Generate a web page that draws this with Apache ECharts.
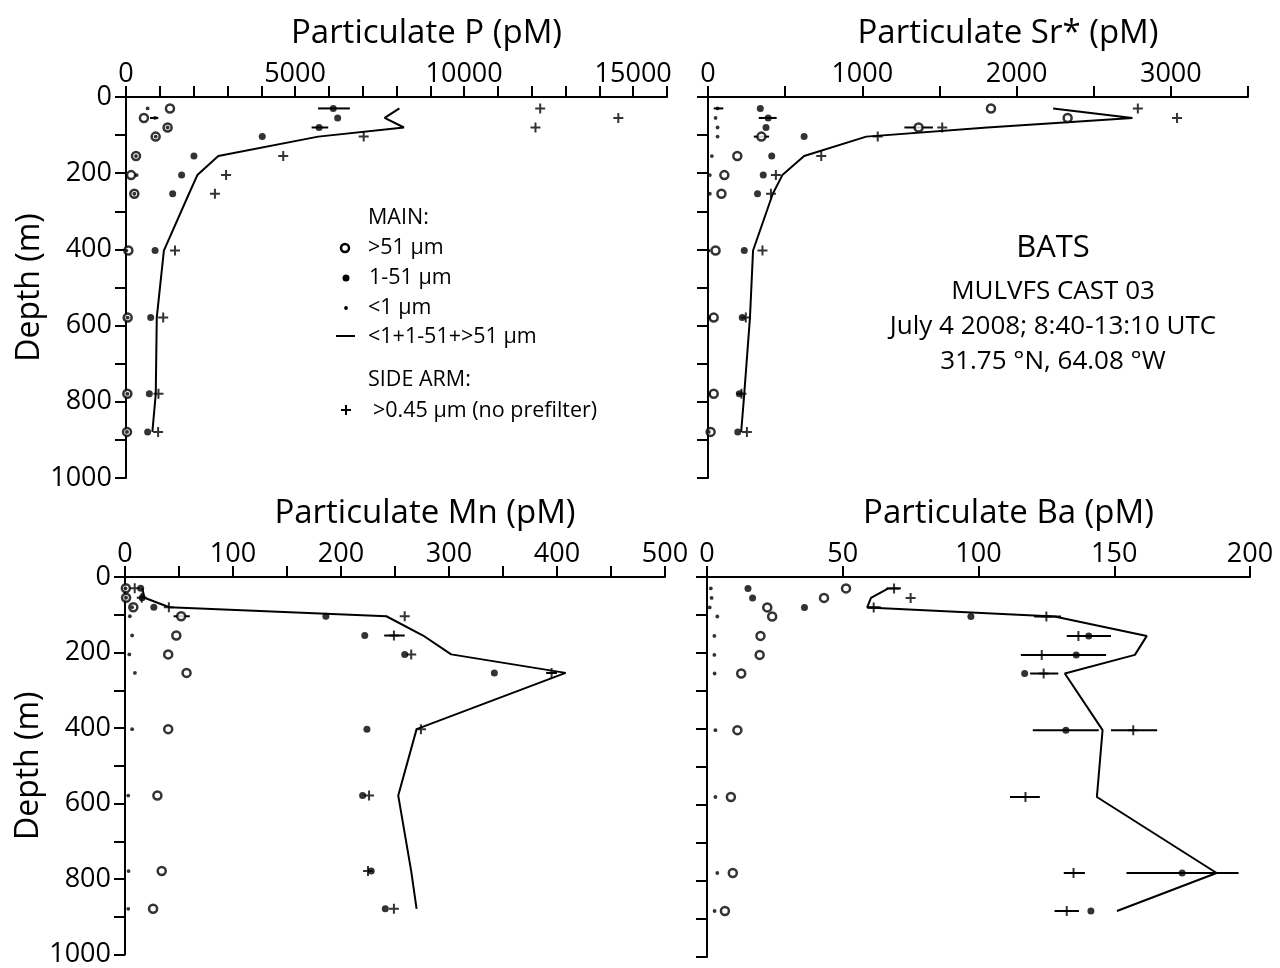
<!DOCTYPE html>
<html>
<head>
<meta charset="utf-8">
<script src="https://cdn.jsdelivr.net/npm/echarts@6/dist/echarts.min.js"></script>
<style>
html,body{margin:0;padding:0;background:#fff;}
#chart{width:1280px;height:968px;}
</style>
</head>
<body>
<div id="chart"></div>
<script>
// ---- data ----
const depths = [30, 55, 80, 104, 155, 205, 254, 403, 579, 779, 879];

// Particulate P (pM)
const P_gt51  = [1300, 530, 1230, 877, 296, 150, 246, 70, 50, 40, 30];
const P_1to51 = [6130, 6260, 5710, 4030, 2010, 1645, 1380, 860, 730, 690, 640];
const P_lt1   = [640, 860, 1230, 877, 296, 315, 246, 10, 50, 45, 30];
const P_side  = [12250, 14560, 12110, 7030, 4650, 2960, 2630, 1450, 1100, 960, 950];
const P_sum   = [8085, 7650, 8220, 5685, 2730, 2110, 1862, 1120, 910, 880, 780];
const P_err   = [[30, 5680, 6620], [80, 5490, 5980], [55, 710, 955]]; // [depth, low, high]

// Particulate Sr* (pM)
const Sr_gt51  = [1834, 2331, 1365, 346, 190, 106, 87, 49, 37, 37, 17];
const Sr_1to51 = [339, 390, 376, 623, 413, 358, 321, 235, 222, 203, 193];
const Sr_lt1   = [62, 49, 62, 62, 25, 12, 12, 5, 5, 5, 5];
const Sr_side  = [2786, 3040, 1518, 1100, 734, 440, 408, 353, 245, 217, 252];
const Sr_sum   = [2237, 2751, 1810, 1026, 623, 482, 420, 292, 272, 235, 215];
const Sr_err   = [[30, 37, 99], [55, 329, 445], [80, 1273, 1458], [104, 297, 396]];

// Particulate Mn (pM)
const Mn_gt51  = [0.8, 1, 7.7, 52, 47.5, 40, 57, 40, 30, 34, 26];
const Mn_1to51 = [14.5, 15.8, 26.7, 186, 222, 259, 342, 224, 220, 228, 241];
const Mn_lt1   = [0.5, 1, 6.6, 4.5, 6.6, 4, 9.2, 6.6, 3, 3.3, 3];
const Mn_side  = [9, 15.5, 40.6, 259, 249, 265, 395, 274, 226, 225, 249];
const Mn_sum   = [16, 18, 41, 242, 276, 302, 408, 270, 253, 265, 270];
const Mn_err   = [[104, 45, 60], [155, 240, 259], [254, 390, 400]];

// Particulate Ba (pM)
const Ba_gt51  = [51.2, 43.1, 22.2, 24, 19.7, 19.4, 12.6, 11.2, 8.8, 9.5, 6.6];
const Ba_1to51 = [15.1, 16.8, 35.9, 97.2, 140.6, 136, 117, 132.2, null, 175, 141.4];
const Ba_lt1   = [1.4, 1.7, 1, 3.8, 2.7, 2.7, 2.8, 3.1, 3.1, 3.8, 2.8];
const Ba_side  = [68.9, 75, 61.4, 125, 136.8, 123.3, 124, 157, 117.3, 135, 132.5];
const Ba_sum   = [66.8, 60.4, 59, 128, 162, 157.6, 131.8, 145.7, 143.6, 187.7, 151];
const Ba_err   = [[30, 66.1, 71.4], [80, 59, 64], [104, 120.5, 130.4], [155, 132.5, 148.8],
                  [205, 115.6, 147], [254, 119, 129.4], [403, 120, 144.3], [403, 148.8, 165.8],
                  [579, 111.6, 122.6], [779, 131.4, 139.2], [779, 154.5, 195.8], [879, 128, 137]];

const titles = ['Particulate P (pM)', 'Particulate Sr* (pM)', 'Particulate Mn (pM)', 'Particulate Ba (pM)'];
const xMax = [16000, 3500, 500, 200];
const xTickStep = [1000, 500, 50, 50];
const xLabelStep = [5000, 1000, 100, 50];
const xLabelMax = [15000, 3000, 500, 200];
const depthTicks = {min: 0, max: 1000, step: 100, labelStep: 200};

// ---- chart ----
const FONT = "'Open Sans', 'Noto Sans', sans-serif";
const panels = [
  {gt: P_gt51, mid: P_1to51, lt: P_lt1, side: P_side, sum: P_sum, err: P_err},
  {gt: Sr_gt51, mid: Sr_1to51, lt: Sr_lt1, side: Sr_side, sum: Sr_sum, err: Sr_err},
  {gt: Mn_gt51, mid: Mn_1to51, lt: Mn_lt1, side: Mn_side, sum: Mn_sum, err: Mn_err},
  {gt: Ba_gt51, mid: Ba_1to51, lt: Ba_lt1, side: Ba_side, sum: Ba_sum, err: Ba_err}
];
const gridBoxes = [
  {left: 126, top: 97, width: 541, height: 381},
  {left: 708, top: 97, width: 540, height: 381},
  {left: 125, top: 577, width: 540, height: 380},
  {left: 707, top: 577, width: 543, height: 380}
];
const PLUS = 'path://M4,0H6V4H10V6H6V10H4V6H0V4H4Z';
const axisLineStyle = {color: '#000', width: 2};

function pairs(vals) {
  const out = [];
  vals.forEach((v, i) => { if (v !== null) out.push([v, depths[i]]); });
  return out;
}

const xAxes = [], yAxes = [], series = [];
panels.forEach((p, i) => {
  xAxes.push({
    gridIndex: i, type: 'value', position: 'top', min: 0, max: xMax[i], interval: xTickStep[i],
    name: titles[i], nameLocation: 'middle', nameGap: 47,
    nameTextStyle: {fontSize: 33, color: '#000', fontFamily: FONT, padding: [0, 0, 0, 60]},
    axisLine: {show: true, onZero: false, lineStyle: axisLineStyle},
    axisTick: {show: true, inside: false, length: 11, lineStyle: axisLineStyle},
    axisLabel: {
      show: true, margin: 9, fontSize: 27, color: '#000', fontFamily: FONT,
      formatter: v => (Math.abs(v % xLabelStep[i]) < 1e-9 && v <= xLabelMax[i]) ? String(v) : ''
    },
    splitLine: {show: false}
  });
  const leftCol = (i % 2 === 0);
  yAxes.push({
    gridIndex: i, type: 'value', inverse: true, min: depthTicks.min, max: depthTicks.max, interval: depthTicks.step,
    name: leftCol ? 'Depth (m)' : '', nameLocation: 'middle', nameRotate: 90, nameGap: 80,
    nameTextStyle: {fontSize: 32, color: '#000', fontFamily: FONT},
    axisLine: {show: true, onZero: false, lineStyle: axisLineStyle},
    axisTick: {show: true, inside: false, length: 11, lineStyle: axisLineStyle},
    axisLabel: {
      show: leftCol, margin: 14, fontSize: 27, color: '#000', fontFamily: FONT,
      formatter: v => (v % depthTicks.labelStep === 0) ? String(v) : ''
    },
    splitLine: {show: false}
  });
  series.push({
    name: '<1+1-51+>51 µm', type: 'line', xAxisIndex: i, yAxisIndex: i, data: pairs(p.sum),
    symbol: 'none', lineStyle: {color: '#000', width: 2}, z: 2, silent: true
  });
  series.push({
    type: 'custom', xAxisIndex: i, yAxisIndex: i, z: 3, silent: true,
    data: p.err.map(d => [d[1], d[2], d[0]]),
    encode: {x: [0, 1], y: 2},
    renderItem: (params, api) => {
      const a = api.coord([api.value(0), api.value(2)]);
      const b = api.coord([api.value(1), api.value(2)]);
      return {type: 'line', shape: {x1: a[0], y1: a[1], x2: b[0], y2: b[1]},
              style: {stroke: '#000', lineWidth: 2}};
    }
  });
  series.push({
    name: '>0.45 µm (no prefilter)', type: 'scatter', xAxisIndex: i, yAxisIndex: i, data: pairs(p.side),
    symbol: PLUS, symbolSize: 10, itemStyle: {color: '#000'}, z: 4, silent: true
  });
  series.push({
    name: '>51 µm', type: 'scatter', xAxisIndex: i, yAxisIndex: i, data: pairs(p.gt),
    symbol: 'circle', symbolSize: 8, itemStyle: {color: '#fff', borderColor: '#000', borderWidth: 2.5}, z: 5, silent: true
  });
  series.push({
    name: '1-51 µm', type: 'scatter', xAxisIndex: i, yAxisIndex: i, data: pairs(p.mid),
    symbol: 'circle', symbolSize: 7, itemStyle: {color: '#000'}, z: 6, silent: true
  });
  series.push({
    name: '<1 µm', type: 'scatter', xAxisIndex: i, yAxisIndex: i, data: pairs(p.lt),
    symbol: 'circle', symbolSize: 3.8, itemStyle: {color: '#000'}, z: 7, silent: true
  });
});

const LFS = 21.5;
function txt(x, y, s, size, align) {
  return {type: 'text', x: x, y: y, silent: true,
          style: {text: s, fill: '#000', font: size + 'px ' + FONT, textAlign: align || 'left', textVerticalAlign: 'middle'}};
}
const graphic = [
  txt(368, 218, 'MAIN:', LFS),
  {type: 'circle', shape: {cx: 345, cy: 248, r: 4}, style: {fill: '#fff', stroke: '#000', lineWidth: 2.5}, silent: true},
  txt(368, 248, '>51 µm', LFS),
  {type: 'circle', shape: {cx: 346, cy: 278, r: 3.5}, style: {fill: '#000'}, silent: true},
  txt(369, 278, '1-51 µm', LFS),
  {type: 'circle', shape: {cx: 346, cy: 308, r: 1.9}, style: {fill: '#000'}, silent: true},
  txt(368, 308, '<1 µm', LFS),
  {type: 'line', shape: {x1: 336, y1: 336, x2: 355, y2: 336}, style: {stroke: '#000', lineWidth: 2}, silent: true},
  txt(368, 337, '<1+1-51+>51 µm', LFS),
  txt(368, 380, 'SIDE ARM:', LFS),
  {type: 'rect', shape: {x: 341, y: 409, width: 10, height: 2}, style: {fill: '#000'}, silent: true},
  {type: 'rect', shape: {x: 345, y: 405, width: 2, height: 10}, style: {fill: '#000'}, silent: true},
  txt(373, 411, '>0.45 µm (no prefilter)', LFS),
  txt(1053, 248, 'BATS', 31, 'center'),
  txt(1053, 292, 'MULVFS CAST 03', 26, 'center'),
  txt(1053, 327, 'July 4 2008; 8:40-13:10 UTC', 26, 'center'),
  txt(1053, 362, '31.75 °N, 64.08 °W', 26, 'center')
];

const chart = echarts.init(document.getElementById('chart'), null, {renderer: 'canvas'});
chart.setOption({
  animation: false,
  backgroundColor: '#fff',
  textStyle: {fontFamily: FONT},
  grid: gridBoxes.map(g => Object.assign({containLabel: false}, g)),
  xAxis: xAxes,
  yAxis: yAxes,
  series: series,
  graphic: graphic
});
</script>
</body>
</html>
